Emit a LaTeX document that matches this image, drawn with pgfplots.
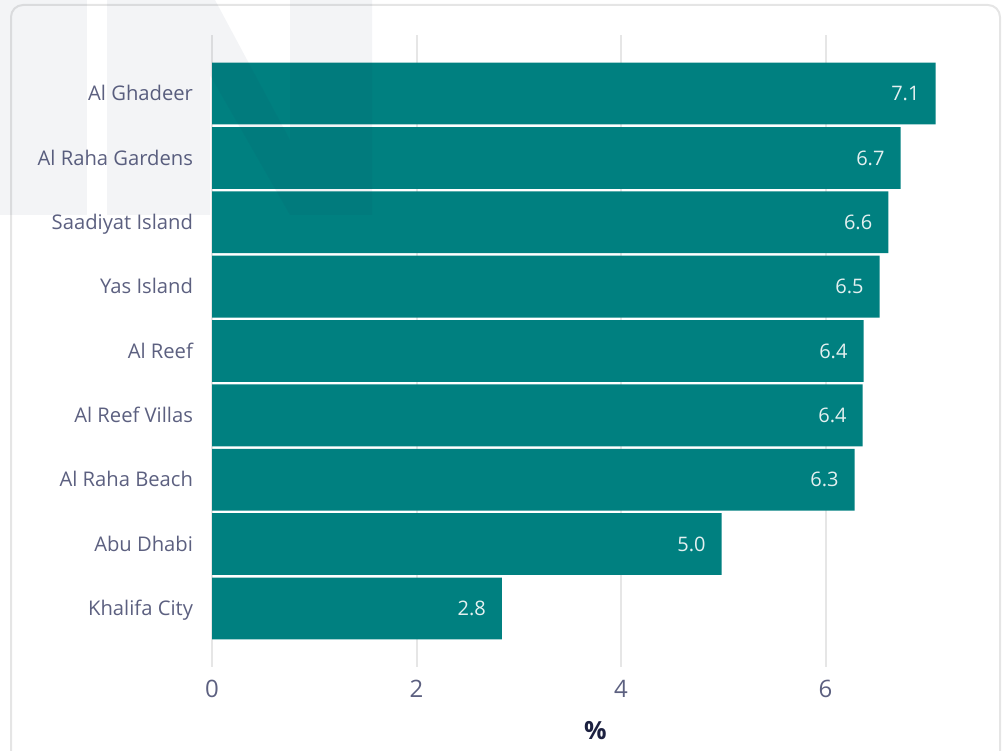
\documentclass[border=0pt]{standalone}
\usepackage{pgfplots}
\pgfplotsset{compat=1.18}
\usepackage{fontspec}
\setmainfont{Open Sans}
\definecolor{barc}{RGB}{0,128,128}
\definecolor{gridc}{RGB}{230,230,230}
\definecolor{tickc}{RGB}{92,96,128}
\definecolor{labc}{RGB}{28,33,64}
\definecolor{borderc}{RGB}{229,229,229}
\definecolor{wmc}{RGB}{30,50,90}
\pgfplotstableread{
x y
7.075 8
6.733 7
6.613 6
6.528 5
6.371 4
6.362 3
6.284 2
4.984 1
2.834 0
}\datatable
\begin{document}
\begin{tikzpicture}
\begin{scope}[x=0.5pt,y=-0.5pt,yshift=375pt]
\useasboundingbox (0,0) rectangle (1005,750);
\draw[borderc, line width=1pt, rounded corners=6pt] (11,770) -- (11,5) -- (1000,5) -- (1000,770);
\end{scope}
\begin{axis}[
  at={(106pt,41.5pt)}, anchor=south west,
  scale only axis, width=383.5pt, height=316pt,
  xbar, bar width=0.96, bar shift=0pt,
  xmin=0, xmax=7.5, ymin=-0.91, ymax=8.91,
  xtick={0,2,4,6},
  ytick={0,...,8},
  yticklabels={Khalifa City, Abu Dhabi, Al Raha Beach, Al Reef Villas, Al Reef, Yas Island, Saadiyat Island, Al Raha Gardens, Al Ghadeer},
  axis line style={draw=none},
  major tick length=0pt,
  xmajorgrids, grid style={gridc, line width=1pt},
  yticklabel style={font=\fontsize{10.1}{12}\selectfont, text=tickc, anchor=east, xshift=-6pt, text height=0.9em, text depth=0.18em},
  xticklabel style={font=\fontsize{12}{14}\selectfont, text=tickc, yshift=-3pt},
  /pgf/number format/assume math mode=true,
  xlabel={\%}, xlabel style={font=\fontsize{12.5}{14}\selectfont\bfseries, text=labc, yshift=-5pt},
  nodes near coords={\pgfmathprintnumber[fixed,fixed zerofill,precision=1]{\pgfplotspointmeta}},
  point meta=x,
  every node near coord/.append style={anchor=east, xshift=-4.5pt, font=\fontsize{10}{12}\selectfont, text={rgb,255:red,228;green,240;blue,240}, text height=0.9em, text depth=0.18em},
]
\addplot[fill=barc, draw=none] table[x=x,y=y] {\datatable};
\end{axis}
\begin{scope}[x=0.5pt,y=-0.5pt,yshift=375pt]
\fill[wmc, opacity=0.055] (0,0) rectangle (87,215);
\fill[wmc, opacity=0.055] (107,215) -- (107,0) -- (215,0) -- (290,140) -- (290,0) -- (372,0) -- (372,215) -- (290,215) -- (210,75) -- (210,215) -- cycle;
\end{scope}
\end{tikzpicture}
\end{document}
